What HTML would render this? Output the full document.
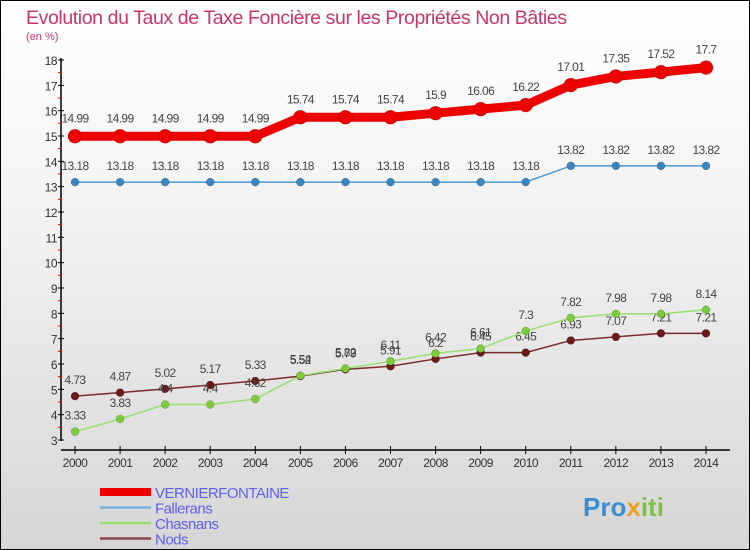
<!DOCTYPE html>
<html><head><meta charset="utf-8">
<style>
body{margin:0;}
#wrap{width:748px;height:548px;border:1px solid #000;background:linear-gradient(#ffffff 0%,#f2f2f2 40%,#d6d6d6 100%);position:relative;overflow:hidden;font-family:"Liberation Sans",sans-serif;}
svg text{font-family:"Liberation Sans",sans-serif;}
</style></head><body>
<div id="wrap">
<svg id="chart" width="750" height="550" style="position:absolute;left:-1px;top:-1px">
<text x="26" y="24" font-size="19.5" fill="#c8356a" letter-spacing="-0.4">Evolution du Taux de Taxe Foncière sur les Propriétés Non Bâties</text>
<text x="26" y="40" font-size="11" fill="#c8356a">(en %)</text>
<g id="axes"></g>
<g id="series"></g>
<g id="legend"></g>
<text x="583" y="516" font-size="26" font-weight="bold" fill="#3a8fd0">Pro<tspan fill="#f0a020">x</tspan><tspan fill="#7cc242">iti</tspan></text>
</svg>
</div>
<script>
const years=[2000,2001,2002,2003,2004,2005,2006,2007,2008,2009,2010,2011,2012,2013,2014];
const vernier=[14.99,14.99,14.99,14.99,14.99,15.74,15.74,15.74,15.9,16.06,16.22,17.01,17.35,17.52,17.7];
const fallerans=[13.18,13.18,13.18,13.18,13.18,13.18,13.18,13.18,13.18,13.18,13.18,13.82,13.82,13.82,13.82];
const chasnans=[3.33,3.83,4.4,4.4,4.62,5.54,5.82,6.11,6.42,6.61,7.3,7.82,7.98,7.98,8.14];
const nods=[4.73,4.87,5.02,5.17,5.33,5.52,5.79,5.91,6.2,6.45,6.45,6.93,7.07,7.21,7.21];
const yTicks=[3,4,5,6,7,8,9,10,11,12,13,14,15,16,17,18];
const seriesNames=["VERNIERFONTAINE","Fallerans","Chasnans","Nods"];
const NS="http://www.w3.org/2000/svg";
const xs=i=>75+i*(706-75)/(years.length-1);
const ys=v=>440-(v-3)*(380/15);
function mk(tag,attrs,parent){const e=document.createElementNS(NS,tag);for(const k in attrs)e.setAttribute(k,attrs[k]);parent.appendChild(e);return e;}
const axes=document.getElementById('axes'),ser=document.getElementById('series'),leg=document.getElementById('legend');
let yl=mk('line',{x1:61,y1:58,x2:61,y2:441,stroke:'#000','stroke-width':1.5},axes);


yTicks.forEach(t=>{
  const y=ys(t);
  mk('line',{x1:58,y1:y,x2:64,y2:y,stroke:'#000'},axes);
  if(t<18)mk('line',{x1:58,y1:y-12.67,x2:61,y2:y-12.67,stroke:'#e00'},axes);
  const tx=mk('text',{x:57,y:y+5,'font-size':12,'text-anchor':'end',fill:'#333','letter-spacing':'-0.5'},axes);
  tx.textContent=t;
  
  
});
let xl=mk('line',{x1:61,y1:450,x2:730,y2:450,stroke:'#000','stroke-width':1.5},axes);


years.forEach((yr,i)=>{
  const x=xs(i);
  mk('line',{x1:x,y1:446,x2:x,y2:454,stroke:'#000'},axes);
  const tx=mk('text',{x:x,y:467,'font-size':12,'text-anchor':'middle',fill:'#333','letter-spacing':'-0.5'},axes);
  tx.textContent=yr;
  
  
});
function drawSeries(data,color,dot,w,r,name,lblOff){
  const g=mk('g',{},ser);
  
  
  mk('polyline',{points:data.map((v,i)=>xs(i)+','+ys(v)).join(' '),fill:'none',stroke:color,'stroke-width':w,'stroke-linejoin':'round'},g);
  data.forEach((v,i)=>{
    const c=mk('circle',{cx:xs(i),cy:ys(v),r:r,fill:dot,stroke:'rgba(0,0,0,0.3)','stroke-width':0.5},g);
    
    
    const t=mk('text',{x:xs(i),y:ys(v)+lblOff,'font-size':12,'text-anchor':'middle',fill:'#444','letter-spacing':'-0.6'},g);
    t.textContent=v;
    
    
  });
}
drawSeries(fallerans,'#4a9ad4','#3a86c0',1.5,4,'series-fallerans',-12);
drawSeries(nods,'#7a2a2a','#6b1a1a',1.5,4,'series-nods',-12);
drawSeries(chasnans,'#98e070','#7ccc3c',1.5,4,'series-chasnans',-12);
drawSeries(vernier,'#ee0000','#ee0000',9,7,'series-vernierfontaine',-14);
const legColors=['#ee0000','#7ab0d8','#98e070','#8a4a4a'],legW=[8,2.5,2.5,2.5];
seriesNames.forEach((n,i)=>{
  const y=492+i*15.5;
  const g=mk('g',{},leg);
  
  
  mk('line',{x1:100,y1:y,x2:151,y2:y,stroke:legColors[i],'stroke-width':legW[i]},g);
  const t=mk('text',{x:155,y:y+6,'font-size':15,fill:'#6060ee','letter-spacing':'-0.5'},g);
  t.textContent=n;
});
</script>
</body></html>
